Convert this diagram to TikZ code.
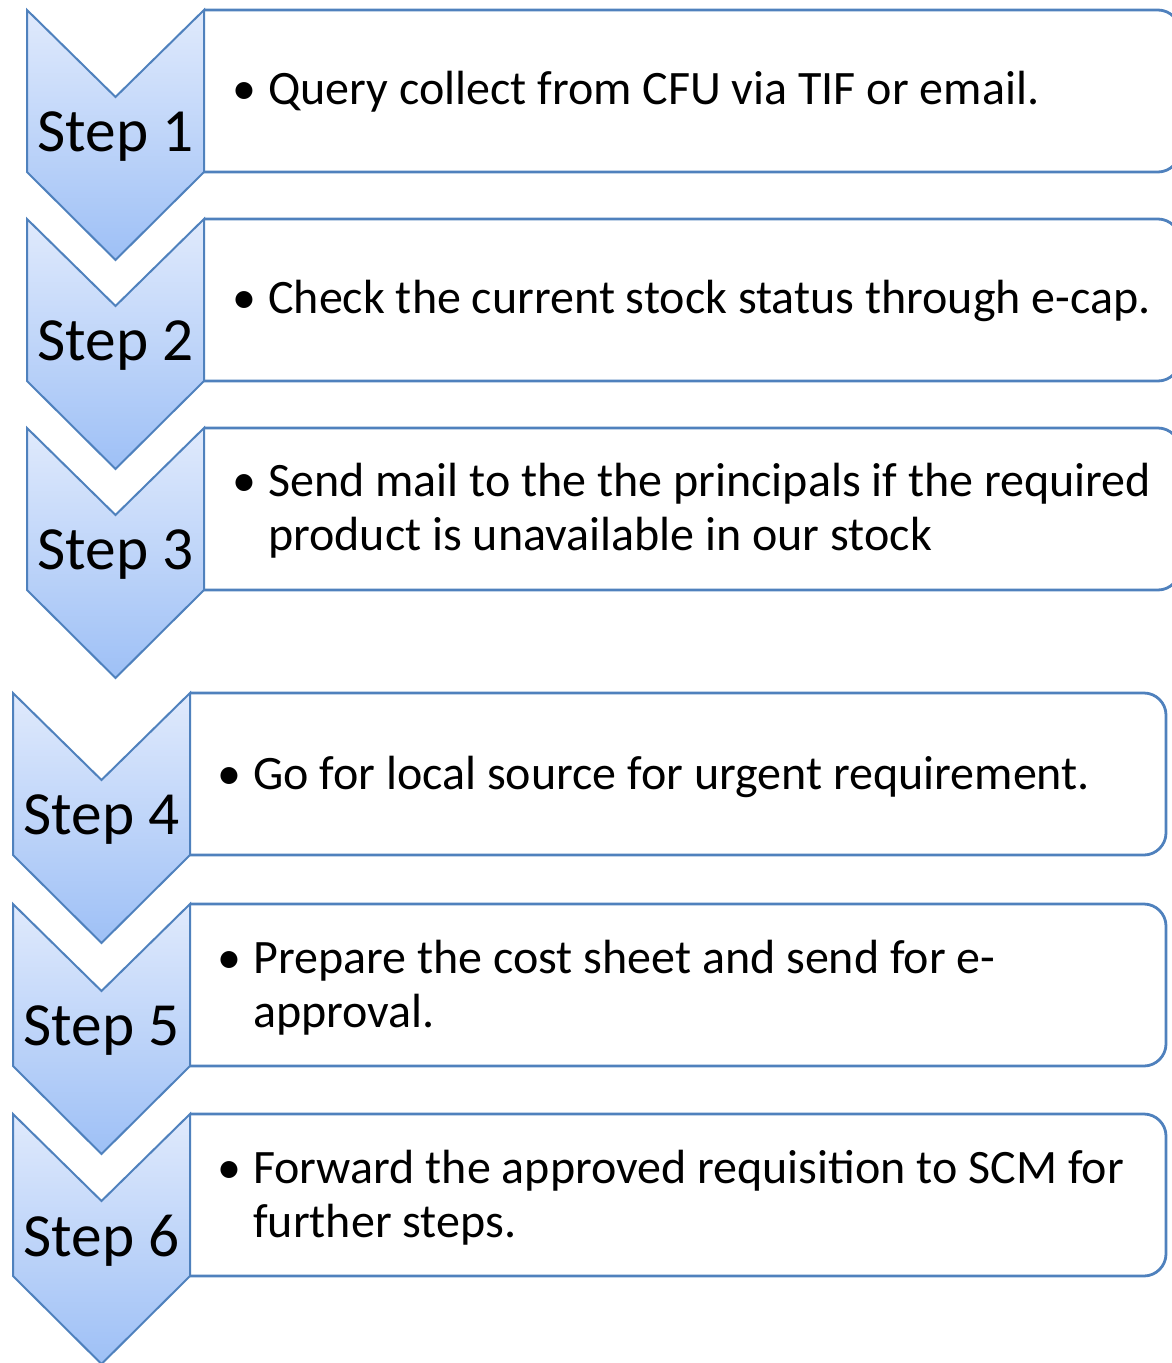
\documentclass[tikz,border=0pt]{standalone}
\usepackage{fontspec}
\setmainfont{Carlito}
\definecolor{stepline}{RGB}{79,129,189}
\definecolor{steptop}{RGB}{224,234,252}
\definecolor{stepbot}{RGB}{158,192,246}
\newcommand\itembullet{\makebox[23.25pt][l]{\hspace*{-3.5pt}\textbullet}}
\begin{document}
\begin{tikzpicture}[x=0.75pt,y=-0.75pt,
	chevron/.style={draw=stepline, line width=1.5pt, line join=miter, top color=steptop, bottom color=stepbot},
	itembox/.style={draw=stepline, line width=2.1pt, fill=white},
	steplabel/.style={font=\fontsize{46}{50}\selectfont},
	itemtext/.style={anchor=west, align=left, inner sep=0pt, font=\fontsize{36}{40.5}\selectfont}]
	\useasboundingbox (0,0) rectangle (1171,1363);
	% steps
	\foreach \n/\x/\y in {1/27/10, 2/27/219, 3/27/428, 4/13/693, 5/13/904, 6/13/1114} {
		\draw[itembox] (\x+177,\y) -- (\x+1131,\y)
			.. controls (\x+1143,\y) and (\x+1153,\y+10) .. (\x+1153,\y+22)
			-- (\x+1153,\y+140)
			.. controls (\x+1153,\y+152) and (\x+1143,\y+162) .. (\x+1131,\y+162)
			-- (\x+177,\y+162);
		\draw[chevron] (\x,\y) -- (\x+88.5,\y+87) -- (\x+177,\y) -- (\x+177,\y+162)
			-- (\x+88.5,\y+250) -- (\x,\y+162) -- cycle;
		\node[steplabel] (step\n) at (\x+88.5,\y+127) {Step \n};
	}
	% texts
	\node[itemtext] (item1) at (237,92) {\itembullet Query collect from CFU via TIF or email.};
	\node[itemtext] (item2) at (237,301) {\itembullet Check the current stock status through e-cap.};
	\node[itemtext] (item3) at (237,511) {\itembullet Send mail to the the principals if the required\\
		\hspace*{23.25pt}product is unavailable in our stock};
	\node[itemtext] (item4) at (222,777) {\itembullet Go for local source for urgent requirement.};
	\node[itemtext] (item5) at (222,988) {\itembullet Prepare the cost sheet and send for e-\\
		\hspace*{23.25pt}approval.};
	\node[itemtext] (item6) at (222,1198) {\itembullet Forward the approved requisition to SCM for\\
		\hspace*{23.25pt}further steps.};
\end{tikzpicture}
\end{document}
